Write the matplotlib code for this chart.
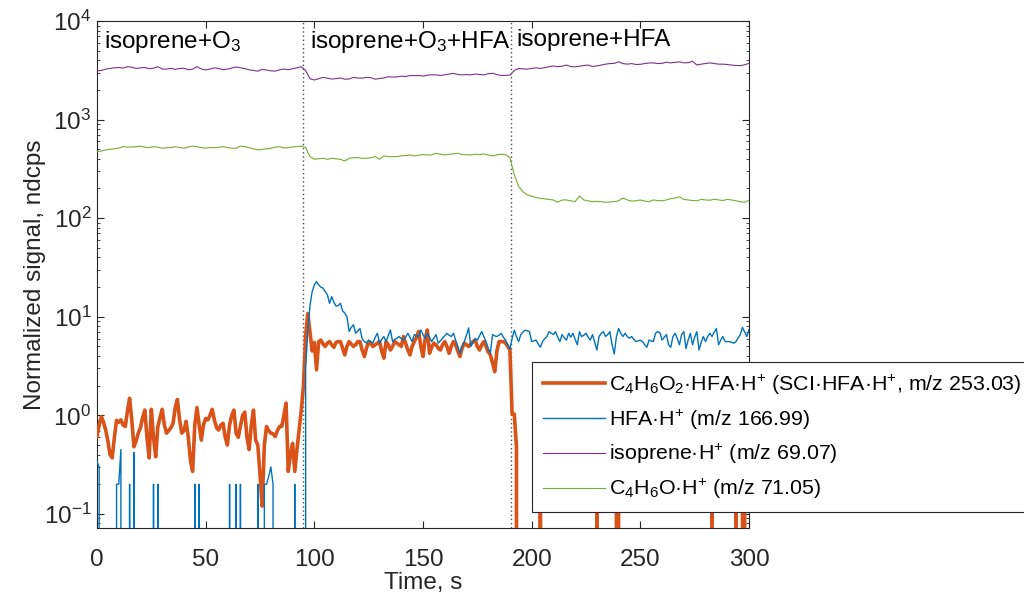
import numpy as np
import matplotlib
matplotlib.use("Agg")
import matplotlib.pyplot as plt

plt.rcParams['font.family'] = ['Liberation Sans', 'DejaVu Sans']
plt.rcParams['mathtext.fontset'] = 'custom'
plt.rcParams['mathtext.rm'] = 'Liberation Sans'
plt.rcParams['mathtext.it'] = 'Liberation Sans:italic'
plt.rcParams['mathtext.bf'] = 'Liberation Sans:bold'

# time bases (s): ion signals at 1 s, reagent/precursor at 2 s
t_fast = np.arange(0, 301, 1)
t_slow = np.arange(0, 301, 2)

# C4H6O2.HFA.H+ (SCI adduct), ndcps
sci_hfa = [
    0.61, 0.80, 0.97, 0.85, 0.71, 0.55, 0.40, 0.37, 0.60, 0.89,
    0.85, 0.90, 0.80, 0.77, 1.10, 1.49, 0.90, 0.48, 0.55, 0.66,
    0.75, 0.95, 1.13, 0.60, 0.37, 1.15, 0.60, 0.38, 0.77, 0.95,
    1.15, 0.80, 0.66, 0.70, 0.75, 0.83, 1.20, 1.45, 0.90, 0.66,
    0.70, 0.87, 0.60, 0.35, 0.27, 0.80, 1.20, 0.80, 0.56, 0.80,
    0.93, 0.90, 1.00, 1.15, 0.90, 0.75, 0.71, 0.80, 0.83, 0.60,
    0.50, 0.80, 1.00, 1.13, 0.66, 0.60, 0.77, 1.00, 1.08, 0.60,
    0.45, 0.80, 1.13, 0.56, 0.50, 0.25, 0.12, 0.50, 0.77, 0.70,
    0.66, 0.65, 0.61, 0.70, 0.77, 0.77, 1.00, 1.33, 0.27, 0.40,
    0.52, 0.27, 0.45, 0.71, 1.13, 2.00, 6.50, 10.8, 7.00, 4.50,
    5.50, 2.90, 5.60, 5.80, 5.30, 5.00, 5.40, 5.60, 5.20, 4.90,
    5.50, 5.60, 5.60, 4.80, 4.10, 5.00, 5.60, 5.30, 5.00, 5.20,
    5.60, 5.60, 4.60, 3.95, 4.80, 5.60, 5.30, 5.00, 5.20, 5.40,
    5.60, 4.50, 3.80, 5.60, 5.20, 4.60, 5.00, 5.60, 5.40, 5.20,
    5.00, 6.30, 5.40, 4.60, 4.10, 5.00, 5.60, 6.20, 7.10, 5.00,
    3.95, 6.00, 7.35, 4.26, 4.90, 5.40, 5.20, 4.80, 4.60, 5.20,
    5.60, 5.00, 4.26, 5.00, 5.60, 5.20, 4.50, 3.95, 4.80, 5.40,
    5.20, 5.00, 5.30, 5.60, 5.80, 5.00, 4.60, 5.20, 5.60, 5.00,
    4.40, 4.10, 3.40, 2.77, 4.50, 5.60, 5.60, 5.60, 5.40, 5.00,
    4.60, 1.03, 1.03, 0.48, 0, 0, 0, 0, 0, 0,
    0, 0, 0, 0, 0.50, 0, 0, 0, 0, 0,
    0, 0, 0, 0, 0, 0, 0, 0, 0, 0,
    0, 0, 0, 0, 0, 0, 0, 0, 0, 0,
    0.50, 0, 0, 0, 0, 0, 0, 0, 0, 0.80,
    0.60, 0, 0, 0, 0, 0, 0, 0, 0, 0,
    0, 0, 0, 0, 0, 0, 0, 0, 0, 0,
    0, 0, 0, 0, 0, 0, 0, 0, 0, 0,
    0, 0, 0, 0, 0, 0, 0, 0, 0, 0,
    0, 0, 0, 0.40, 0, 0, 0, 0, 0, 0,
    0, 0, 0, 0, 0.40, 0, 0, 0.50, 0.60, 0,
    0,
]

# HFA.H+ reagent ion, ndcps
hfa = [
    0.34, 0.30, 0, 0, 0, 0, 0, 0, 0, 0.20,
    0.20, 0.45, 0, 0, 0, 0.20, 0, 0.42, 0, 0,
    0, 0, 0, 0, 0, 0, 0.20, 0, 0.20, 0,
    0, 0, 0, 0, 0, 0, 0, 0, 0, 0,
    0, 0, 0, 0, 0, 0.20, 0, 0.20, 0, 0,
    0, 0, 0, 0, 0, 0, 0, 0, 0, 0,
    0, 0.20, 0, 0, 0.20, 0, 0.20, 0, 0, 0,
    0, 0, 0, 0, 0.20, 0, 0, 0.20, 0.20, 0.24,
    0.30, 0.20, 0, 0, 0, 0, 0, 0, 0, 0,
    0, 0.20, 0, 0, 0, 0, 3.1, 7.0, 13.0, 18.0,
    21.0, 22.7, 21.0, 20.0, 19.5, 18.0, 16.7, 13.7, 16.0, 14.0,
    12.8, 13.0, 13.7, 11.5, 10.9, 10.0, 7.1, 7.8, 8.3, 6.8,
    7.2, 7.6, 6.0, 5.6, 5.4, 5.8, 5.6, 5.4, 6.2, 6.8,
    5.4, 5.9, 6.3, 5.6, 6.4, 7.35, 5.6, 5.9, 6.05, 6.3,
    6.0, 5.8, 6.2, 6.8, 6.2, 5.6, 6.6, 6.4, 6.3, 7.35,
    6.6, 6.05, 6.8, 6.2, 5.6, 6.1, 6.6, 5.4, 5.7, 6.05,
    6.4, 6.8, 6.5, 6.3, 6.8, 5.8, 5.0, 4.26, 5.0, 5.6,
    6.5, 7.7, 5.0, 5.5, 6.0, 5.8, 6.4, 7.07, 6.3, 5.6,
    4.8, 4.26, 6.6, 6.4, 6.3, 6.5, 6.8, 6.2, 5.8, 5.2,
    4.7, 6.0, 7.3, 6.3, 5.6, 6.6, 7.0, 7.3, 7.2, 7.06,
    5.6, 5.7, 5.8, 5.3, 4.9, 5.6, 6.0, 6.3, 7.06, 6.8,
    6.6, 7.06, 6.2, 5.6, 6.6, 6.1, 5.8, 6.8, 6.2, 6.8,
    5.9, 5.2, 7.06, 6.3, 6.5, 6.8, 6.2, 5.8, 6.6, 5.5,
    4.6, 6.3, 6.8, 7.06, 6.3, 6.6, 7.06, 5.2, 4.2, 6.3,
    7.6, 6.8, 6.3, 6.8, 6.3, 6.05, 6.3, 5.9, 5.6, 5.7,
    5.8, 5.6, 5.2, 4.9, 5.8, 5.7, 5.6, 6.8, 7.06, 6.9,
    5.8, 6.2, 6.6, 5.2, 4.9, 6.3, 6.8, 6.0, 5.2, 6.6,
    7.06, 4.75, 5.8, 6.8, 5.2, 6.2, 7.06, 4.6, 5.5, 6.3,
    5.6, 6.3, 6.8, 6.3, 7.0, 7.6, 5.2, 5.8, 6.3, 5.6,
    5.6, 5.6, 5.5, 5.4, 5.6, 6.1, 6.6, 7.8, 7.0, 6.3,
    7.4,
]

# isoprene.H+, ndcps (2 s steps)
isoprene = [
    3120, 3150, 3250, 3300, 3350, 3380, 3330, 3440, 3400, 3300,
    3350, 3380, 3280, 3320, 3440, 3260, 3250, 3310, 3230, 3300,
    3320, 3200, 3250, 3440, 3260, 3190, 3250, 3350, 3300, 3200,
    3250, 3330, 3420, 3350, 3290, 3200, 3150, 3100, 3230, 3180,
    3120, 3100, 3200, 3260, 3200, 3280, 3350, 3440, 3150, 2600,
    2520, 2600, 2680, 2630, 2580, 2600, 2640, 2570, 2580, 2680,
    2640, 2630, 2680, 2660, 2570, 2610, 2640, 2720, 2700, 2710,
    2760, 2730, 2800, 2790, 2800, 2760, 2820, 2850, 2840, 2800,
    2850, 2900, 2940, 2870, 2840, 2860, 2840, 2900, 2870, 2840,
    2920, 2950, 2860, 2800, 2810, 2830, 3150, 3300, 3270, 3250,
    3300, 3350, 3300, 3360, 3440, 3500, 3440, 3480, 3570, 3450,
    3430, 3480, 3540, 3570, 3460, 3500, 3570, 3650, 3700, 3720,
    3850, 3700, 3650, 3700, 3620, 3640, 3700, 3750, 3760, 3700,
    3720, 3820, 3760, 3800, 3850, 3760, 3780, 3900, 3580, 3650,
    3700, 3760, 3700, 3650, 3650, 3620, 3570, 3540, 3520, 3600,
    3720,
]

# C4H6O.H+, ndcps (2 s steps)
c4h6o = [
    473, 480, 492, 500, 505, 515, 531, 525, 528, 531,
    538, 525, 520, 531, 525, 512, 518, 520, 531, 520,
    512, 528, 538, 531, 520, 512, 522, 518, 525, 531,
    520, 512, 512, 538, 530, 520, 505, 492, 498, 505,
    512, 525, 531, 515, 520, 528, 531, 540, 520, 420,
    396, 400, 405, 396, 405, 400, 395, 380, 405, 410,
    412, 405, 405, 410, 421, 396, 428, 421, 421, 421,
    428, 432, 438, 428, 435, 442, 438, 438, 455, 445,
    438, 445, 450, 455, 442, 440, 438, 445, 442, 448,
    438, 428, 438, 445, 440, 410, 275, 210, 185, 172,
    167, 162, 159, 157, 155, 153, 145, 153, 153, 150,
    147, 168, 153, 150, 147, 148, 147, 145, 146, 147,
    150, 160, 153, 149, 150, 153, 149, 147, 153, 151,
    150, 153, 158, 160, 165, 155, 153, 151, 150, 155,
    153, 152, 156, 153, 151, 155, 153, 150, 147, 145,
    152,
]

phase_starts = [95, 190.5]
phase_labels = [
    (3, r'isoprene+O$_{\mathrm{3}}$'),
    (98, r'isoprene+O$_{\mathrm{3}}$+HFA'),
    (193, 'isoprene+HFA'),
]

series_labels = [
    r'C$_{\mathrm{4}}$H$_{\mathrm{6}}$O$_{\mathrm{2}}$·HFA·H$^{\mathrm{+}}$ (SCI·HFA·H$^{\mathrm{+}}$, m/z 253.03)',
    r'HFA·H$^{\mathrm{+}}$ (m/z 166.99)',
    r'isoprene·H$^{\mathrm{+}}$ (m/z 69.07)',
    r'C$_{\mathrm{4}}$H$_{\mathrm{6}}$O·H$^{\mathrm{+}}$ (m/z 71.05)',
]

dark = '0.15'
fig = plt.figure(figsize=(10.24, 6.02), dpi=100)
ax = fig.add_axes([97 / 1024, 74 / 602, 652 / 1024, 507 / 602])

h1, = ax.plot(t_fast, sci_hfa, color='#D95319', lw=2.6, zorder=3)
h2, = ax.plot(t_fast, hfa, color='#0072BD', lw=1.0, zorder=4)
h3, = ax.plot(t_slow, isoprene, color='#7E2F8E', lw=0.8, zorder=4)
h4, = ax.plot(t_slow, c4h6o, color='#77AC30', lw=0.8, zorder=4)

for xs in phase_starts:
    ax.axvline(xs, color='0.3', ls=(0, (1, 2)), lw=1.0, zorder=2)

for xs, txt in phase_labels:
    ax.text(xs, 0.985, txt, transform=ax.get_xaxis_transform(),
            ha='left', va='top', fontsize=17.5, color='black')

ax.set_yscale('log')
ax.set_xlim(0, 300)
ax.set_ylim(0.072, 1e4)
ax.set_xticks([0, 50, 100, 150, 200, 250, 300])

ax.tick_params(which='both', direction='in', top=True, right=True,
               colors=dark, labelsize=17.5)
ax.tick_params(which='major', length=5, width=0.8)
ax.tick_params(which='minor', length=2.5, width=0.6)
ax.tick_params(axis='x', pad=15)
ax.tick_params(axis='y', pad=4)
for sp in ax.spines.values():
    sp.set_color(dark)
    sp.set_linewidth(0.8)

ax.set_xlabel('Time, s', fontsize=17.5, color=dark, labelpad=1)
ax.set_ylabel('Normalized signal, ndcps', fontsize=17.5, color=dark, labelpad=-2)

leg = fig.legend([h1, h2, h3, h4], series_labels, loc='upper left',
                 bbox_to_anchor=(532 / 1024, 1 - 362 / 602),
                 fontsize=15.4, frameon=True, fancybox=False, framealpha=1,
                 edgecolor=dark, handlelength=2.9, handletextpad=0.2,
                 labelspacing=0.5, borderpad=0.5, borderaxespad=0)
leg.get_frame().set_linewidth(0.8)

fig.savefig('out.png', dpi=100)
